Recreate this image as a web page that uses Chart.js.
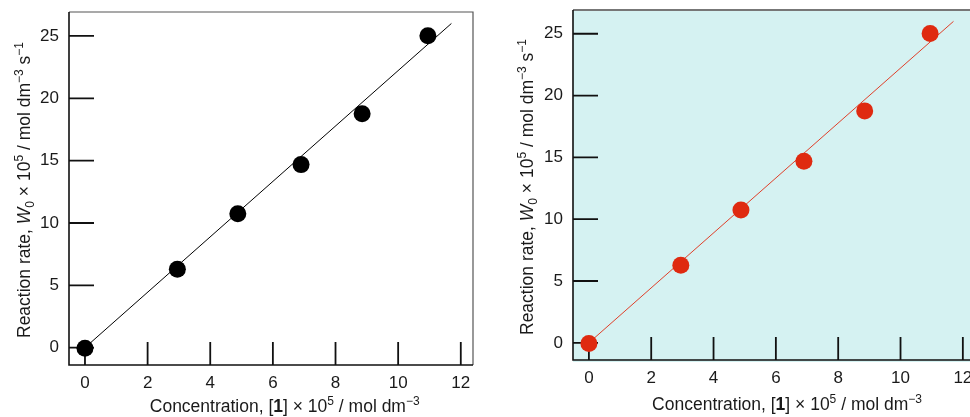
<!DOCTYPE html>
<html>
<head>
<meta charset="utf-8">
<script src="https://cdn.jsdelivr.net/npm/chart.js@4/dist/chart.umd.min.js"></script>
<style>
  html, body { margin: 0; padding: 0; background: #fff; overflow: hidden; width: 970px; height: 417px; }
  canvas { position: absolute; top: 0; }
  #left { left: 0; }
  #right { left: 488px; }
</style>
</head>
<body>
<canvas id="left" width="485" height="417"></canvas>
<canvas id="right" width="500" height="417"></canvas>
<script>
  // data
  const xTicks = [0, 2, 4, 6, 8, 10, 12];
  const yTicks = [0, 5, 10, 15, 20, 25];
  const concentration = [0, 2.95, 4.88, 6.9, 8.85, 10.95];
  const rate = [-0.05, 6.28, 10.74, 14.68, 18.76, 25.02];
  const fitX = [0, 11.7];
  const fitY = [0, 26.0];

  // axis titles as [text, style] runs
  const yTitle = [["Reaction rate, ", "n"], ["W", "i"], ["0", "sub"], [" \u00d7 10", "n"], ["5", "sup"],
    [" / mol dm", "n"], ["\u22123", "sup"], [" s", "n"], ["\u22121", "sup"]];
  const xTitle = [["Concentration, [", "n"], ["1", "b"], ["] \u00d7 10", "n"], ["5", "sup"],
    [" / mol dm", "n"], ["\u22123", "sup"]];

  const FONT = '"Liberation Sans", Arial, sans-serif';
  const TEXT = "#1a1a1a";

  function runFont(style) {
    if (style === "i") return "italic 17.5px " + FONT;
    if (style === "b") return "bold 17.5px " + FONT;
    if (style === "sup" || style === "sub") return "12px " + FONT;
    return "17.5px " + FONT;
  }
  function runShift(style) {
    if (style === "sup") return -7;
    if (style === "sub") return 4;
    return 0;
  }

  function drawRich(ctx, runs, cx, y) {
    let w = 0;
    runs.forEach(r => { ctx.font = runFont(r[1]); w += ctx.measureText(r[0]).width; });
    let x = cx - w / 2;
    ctx.textAlign = "left";
    ctx.textBaseline = "alphabetic";
    ctx.fillStyle = TEXT;
    runs.forEach(r => {
      ctx.font = runFont(r[1]);
      ctx.fillText(r[0], x, y + runShift(r[1]));
      x += ctx.measureText(r[0]).width;
    });
  }

  const framePlugin = {
    id: "frame",
    beforeDraw(chart, args, o) {
      const a = chart.chartArea, ctx = chart.ctx;
      if (o.fill) {
        ctx.save();
        ctx.fillStyle = o.fill;
        ctx.fillRect(a.left, a.top, a.right - a.left, a.bottom - a.top + 2);
        ctx.restore();
      }
    },
    beforeDatasetsDraw(chart, args, o) {
      const a = chart.chartArea, ctx = chart.ctx;
      const xs = chart.scales.x, ys = chart.scales.y;
      ctx.save();
      // top and right edges
      ctx.strokeStyle = o.edge;
      ctx.lineWidth = o.edgeWidth;
      ctx.beginPath();
      ctx.moveTo(a.left, a.top);
      ctx.lineTo(a.right, a.top);
      ctx.lineTo(a.right, a.bottom);
      ctx.stroke();
      // left and bottom axes
      ctx.strokeStyle = "#111";
      ctx.lineWidth = 1.6;
      ctx.beginPath();
      ctx.moveTo(a.left, a.top);
      ctx.lineTo(a.left, a.bottom);
      ctx.lineTo(a.right, a.bottom);
      ctx.stroke();
      // inward tick marks
      ctx.lineWidth = 1.8;
      ctx.beginPath();
      yTicks.forEach(v => {
        const y = ys.getPixelForValue(v);
        ctx.moveTo(a.left, y);
        ctx.lineTo(a.left + 25, y);
      });
      xTicks.forEach(v => {
        const x = xs.getPixelForValue(v);
        ctx.moveTo(x, a.bottom);
        ctx.lineTo(x, a.bottom - 23);
      });
      ctx.stroke();
      ctx.restore();
    },
    afterDraw(chart, args, o) {
      const ctx = chart.ctx;
      ctx.save();
      drawRich(ctx, xTitle, o.xTitleX, o.xTitleY);
      ctx.translate(o.yTitleX, o.yTitleY);
      ctx.rotate(-Math.PI / 2);
      drawRich(ctx, yTitle, 0, 0);
      ctx.restore();
    }
  };

  function makeChart(id, p) {
    return new Chart(document.getElementById(id), {
      type: "scatter",
      data: {
        datasets: [
          {
            data: concentration.map((x, i) => ({ x: x, y: rate[i] })),
            pointRadius: 8.5,
            pointBackgroundColor: p.point,
            pointBorderWidth: 0,
            clip: false
          },
          {
            data: fitX.map((x, i) => ({ x: x, y: fitY[i] })),
            showLine: true,
            borderColor: p.line,
            borderWidth: 1,
            pointRadius: 0,
            clip: false
          }
        ]
      },
      options: {
        responsive: false,
        animation: false,
        events: [],
        layout: { padding: { top: p.top, right: p.right, left: 0, bottom: 0 } },
        plugins: {
          legend: { display: false },
          tooltip: { enabled: false },
          frame: p.frame
        },
        scales: {
          x: {
            type: "linear",
            min: -0.51,
            max: 12.39,
            afterBuildTicks: s => { s.ticks = xTicks.map(v => ({ value: v })); },
            afterFit: s => { s.height = p.xh; s.paddingLeft = 0; s.paddingRight = 0; },
            grid: { display: false, drawTicks: false },
            border: { display: false },
            ticks: { padding: 8, color: TEXT, font: { family: FONT, size: 17 } }
          },
          y: {
            type: "linear",
            min: -1.39,
            max: 26.92,
            afterBuildTicks: s => { s.ticks = yTicks.map(v => ({ value: v })); },
            afterFit: s => { s.width = p.yw; s.paddingTop = 0; s.paddingBottom = 0; },
            grid: { display: false, drawTicks: false },
            border: { display: false },
            ticks: { padding: 10, color: TEXT, font: { family: FONT, size: 17 } }
          }
        }
      },
      plugins: [framePlugin]
    });
  }

  makeChart("left", {
    point: "#000", line: "#000",
    top: 12, right: 12, xh: 52, yw: 69,
    frame: { edge: "#555", edgeWidth: 1.2, xTitleX: 284.7, xTitleY: 411.5, yTitleX: 30, yTitleY: 190 }
  });

  makeChart("right", {
    point: "#df2a10", line: "#e0402a",
    top: 10, right: 13, xh: 57, yw: 85,
    frame: { fill: "#d5f2f2", edge: "#777", edgeWidth: 2, xTitleX: 299, xTitleY: 409.5, yTitleX: 45, yTitleY: 187 }
  });
</script>
</body>
</html>
